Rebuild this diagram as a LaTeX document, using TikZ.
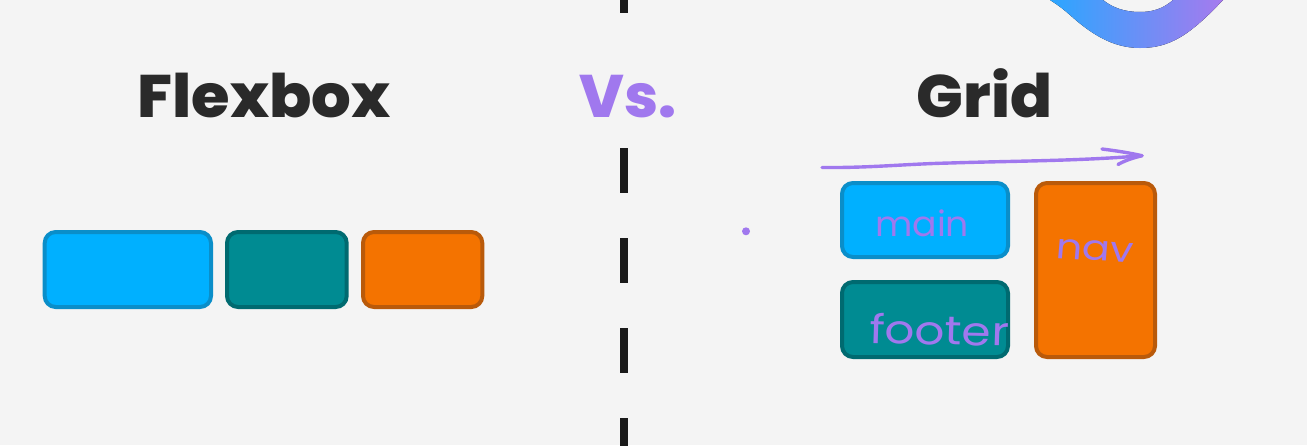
\documentclass[tikz,border=0pt]{standalone}
\usepackage{fontspec}
\usetikzlibrary{calc}
\newfontfamily\titlefont{Poppins ExtraBold}
\newfontfamily\handfont{Poppins}
\definecolor{pagebg}{HTML}{F4F4F4}
\definecolor{inkdark}{HTML}{2A2A2A}
\definecolor{dashink}{HTML}{1A1A1A}
\definecolor{violet}{HTML}{A078EE}
\definecolor{bluefill}{HTML}{00B0FF}
\definecolor{blueline}{HTML}{0A8EC9}
\definecolor{tealfill}{HTML}{008B92}
\definecolor{tealline}{HTML}{006A70}
\definecolor{orangefill}{HTML}{F47300}
\definecolor{orangeline}{HTML}{B95A0A}
\definecolor{swooshA}{HTML}{2BA6FF}
\definecolor{swooshB}{HTML}{A67AEE}
\tikzset{
  panel/.style={rounded corners=11pt,line width=4pt,inner sep=0pt,outer sep=0pt,anchor=north west},
  bluepanel/.style={panel,draw=blueline,fill=bluefill},
  tealpanel/.style={panel,draw=tealline,fill=tealfill},
  orangepanel/.style={panel,draw=orangeline,fill=orangefill},
  heading/.style={font=\titlefont\fontsize{60}{60}\selectfont,inner sep=0pt,anchor=base,transform shape},
  scrawl/.style={font=\handfont\fontsize{37}{37}\selectfont,text=violet,inner sep=0pt,anchor=base west,transform shape},
  pen/.style={draw=violet,line width=3.4pt,line cap=round,line join=round},
  divider/.style={draw=dashink,line width=8pt}
}
\begin{document}
\begin{tikzpicture}[x=1pt,y=-1pt]
\useasboundingbox (0,0) rectangle (1307,445);
\fill[pagebg] (0,0) rectangle (1307,445);
% swoosh
\fill[left color=swooshA,right color=swooshB]
  (1050,0) .. controls (1058,5) and (1063,9) .. (1070,15)
  .. controls (1090,33) and (1112,48) .. (1140,48)
  .. controls (1170,48) and (1190,35) .. (1223,0)
  -- (1173,0) .. controls (1163,9) and (1152,12) .. (1140,12)
  .. controls (1125,12) and (1113,8) .. (1103,0) -- cycle;
% divider
\foreach \y in {-32,148,238,328,418}
  \draw[divider] (623.5,\y) -- (623.5,\y+45);
% headings
\node[heading,text=inkdark,xscale=1.04] (flex) at (264,117) {Flexbox};
\node[heading,text=violet] (vs) at (628,117) {Vs.};
\node[heading,text=inkdark,xscale=1.03] (grid) at (984.5,117) {Grid};
% flexbox row
\node[bluepanel,minimum width=166.3pt,minimum height=75pt] (fa) at (44.7,232) {};
\node[tealpanel,minimum width=119.7pt,minimum height=75pt] (fb) at (227,232) {};
\node[orangepanel,minimum width=119.3pt,minimum height=75pt] (fc) at (363,232) {};
% grid
\node[bluepanel,minimum width=166pt,minimum height=74pt] (gmain) at (842,183) {};
\node[tealpanel,minimum width=166pt,minimum height=75pt] (gfoot) at (842,282) {};
\node[orangepanel,minimum width=119pt,minimum height=174pt] (gnav) at (1036,183) {};
% hand-written labels
\node[scrawl,xscale=0.98,yscale=0.95] (lmain) at (875,236) {main};
\node[scrawl,xscale=1.27,yscale=1.08,rotate=-1.5] (lfoot) at (869,343) {footer};
\node[scrawl,xscale=1.12,yscale=0.95,rotate=-4] (lnav) at (1055,258) {nav};
% dot
\fill[violet] (746,231.3) circle (4pt);
% hand-drawn arrow
\coordinate (penstart) at (822,167.5);
\coordinate (pentip) at (1142,155.7);
\draw[pen] (penstart) .. controls (870,168) and (905,164) .. (950,163)
  .. controls (1010,161) and (1080,161) .. (pentip);
\draw[pen] (1102,149) .. controls (1118,151) and (1130,153) .. (pentip)
  .. controls (1133,158) and (1126,160) .. (1118,164.5);
\end{tikzpicture}
\end{document}
